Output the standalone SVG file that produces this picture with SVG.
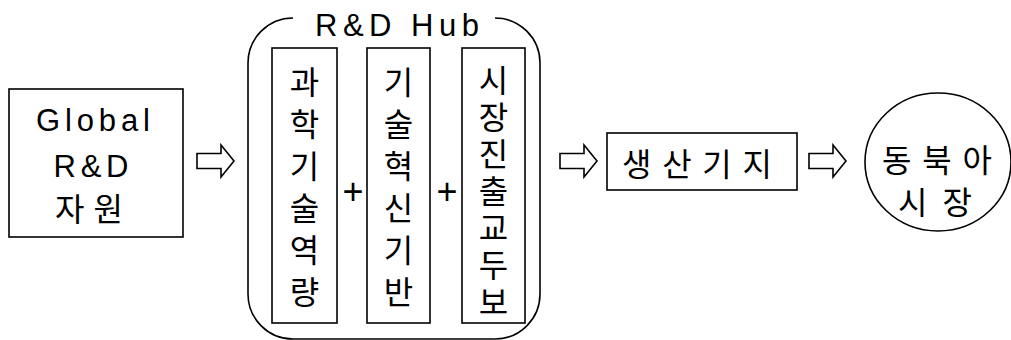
<svg xmlns="http://www.w3.org/2000/svg" width="1011" height="340" viewBox="0 0 1011 340">
<style>
.b{fill:#fff;stroke:#000;stroke-width:1.6}
.o{fill:none;stroke:#000;stroke-width:1.6}
.t{font-family:"Liberation Sans","Noto Sans CJK KR",sans-serif;font-size:31px;fill:#000;text-anchor:middle}
.p{font-family:"Liberation Sans",sans-serif;font-size:36px;fill:#000;text-anchor:middle}
.k{font-family:"Noto Sans CJK KR","Liberation Sans",sans-serif;font-size:32px;fill:#000;text-anchor:middle}
.v{font-family:"Noto Sans CJK KR",sans-serif;font-size:32px;fill:#000;writing-mode:vertical-rl;text-orientation:upright;text-anchor:start}
</style>
<defs>
<path id="arr" d="M0,-7.5 H24 V-16 L37,0 L24,16 V7.5 H0 Z" fill="#fff" stroke="#000" stroke-width="1.6" stroke-linejoin="miter"/>
</defs>
<rect width="1011" height="340" fill="#fff"/>
<g id="global">
<rect class="b" x="9" y="89" width="174" height="148"/>
<text class="t" x="93" y="131" textLength="114" lengthAdjust="spacing">Global</text>
<text class="t" x="91" y="177" textLength="75" lengthAdjust="spacing">R&amp;D</text>
<text class="k" x="89" y="221" textLength="68" lengthAdjust="spacing">자원</text>
</g>
<g id="hub">
<path class="o" d="M495,18 A45,45 0 0 1 540,63 V294 A45,45 0 0 1 495,339 H293 A45,45 0 0 1 248,294 V63 A45,45 0 0 1 293,18"/>
<text class="t" x="397" y="36" textLength="164" lengthAdjust="spacing">R&amp;D Hub</text>
</g>
<g id="box1">
<rect class="b" x="272" y="48" width="65" height="275"/>
<text class="v" x="304.5" y="66" letter-spacing="10">과학기술역량</text>
</g>
<g id="box2">
<rect class="b" x="367" y="48" width="63" height="275"/>
<text class="v" x="398.5" y="66" letter-spacing="10">기술혁신기반</text>
</g>
<g id="box3">
<rect class="b" x="462" y="48" width="63" height="275"/>
<text class="v" x="493.5" y="64" letter-spacing="5">시장진출교두보</text>
</g>
<g id="plus">
<text class="p" x="353" y="204">+</text>
<text class="p" x="447" y="204">+</text>
</g>
<g id="production">
<rect class="b" x="607" y="133" width="190" height="57"/>
<text class="k" x="697" y="176" textLength="150" lengthAdjust="spacing">생산기지</text>
</g>
<g id="market">
<ellipse class="b" cx="938" cy="162" rx="73" ry="69"/>
<text class="k"><tspan x="937" y="172" textLength="110" lengthAdjust="spacing">동북아</tspan><tspan x="935" y="214" textLength="74" lengthAdjust="spacing">시장</tspan></text>
</g>
<g id="connectors">
<use href="#arr" x="197" y="161"/>
<use href="#arr" x="560" y="161"/>
<use href="#arr" x="809" y="161"/>
</g>
</svg>
